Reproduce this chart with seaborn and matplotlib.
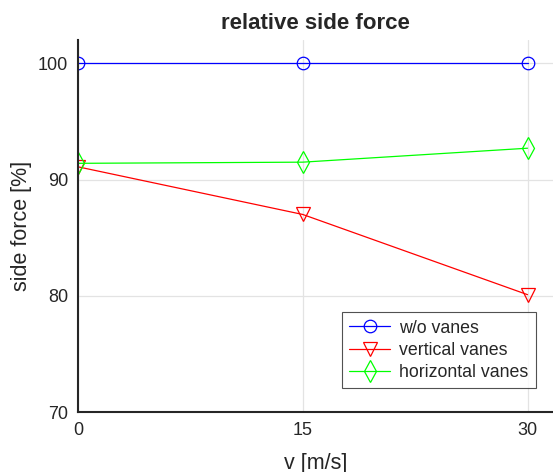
import pandas as pd
import numpy as np
import matplotlib
matplotlib.use("Agg")
import matplotlib.pyplot as plt
import seaborn as sns

# --- data ---
speeds = [0, 15, 30]
wo_vanes = [100.0, 100.0, 100.0]
vertical_vanes = [91.1, 87.0, 80.1]
horizontal_vanes = [91.4, 91.5, 92.7]
series_names = ["w/o vanes", "vertical vanes", "horizontal vanes"]

df = pd.DataFrame({
    "v": speeds * 3,
    "force": wo_vanes + vertical_vanes + horizontal_vanes,
    "series": np.repeat(series_names, len(speeds)),
})

sns.set_style("white")
plt.rcParams["font.family"] = ["Liberation Sans", "DejaVu Sans"]

fig = plt.figure(figsize=(5.53, 4.72), dpi=100)
ax = fig.add_axes([0.141, 0.127, 0.859, 0.788])

palette = {"w/o vanes": "#0000ff", "vertical vanes": "#ff0000", "horizontal vanes": "#00ff00"}
markers = {"w/o vanes": "o", "vertical vanes": "v", "horizontal vanes": "d"}
msizes = {"w/o vanes": 9, "vertical vanes": 10, "horizontal vanes": 11}

for name in series_names:
    sub = df[df["series"] == name]
    sns.lineplot(data=sub, x="v", y="force", ax=ax, color=palette[name],
                 marker=markers[name], markersize=msizes[name], markerfacecolor="none",
                 markeredgecolor=palette[name], markeredgewidth=0.9,
                 linewidth=0.9, label=name)

ax.set_xlim(0, 31.7)
ax.set_ylim(70, 102)
ax.set_xticks([0, 15, 30])
ax.set_yticks([70, 80, 90, 100])
ax.grid(True, color="#e3e3e3", linewidth=0.9)
ax.set_axisbelow(True)

for side in ["top", "right"]:
    ax.spines[side].set_visible(False)
for side in ["left", "bottom"]:
    ax.spines[side].set_color("#262626")
    ax.spines[side].set_linewidth(1.5)

ax.tick_params(direction="in", length=5, width=1.2, colors="#262626",
               labelsize=13, labelcolor="#262626", pad=7)
ax.set_xlabel("v [m/s]", fontsize=15.5, color="#262626", labelpad=10)
ax.set_ylabel("side force [%]", fontsize=15.5, color="#262626", labelpad=4)
ax.set_title("relative side force", fontsize=16, fontweight="bold", pad=8)

leg = ax.legend(loc="lower right", bbox_to_anchor=(0.982, 0.04), fontsize=12.8,
                frameon=True, fancybox=False, edgecolor="#262626",
                handlelength=2.3, handletextpad=0.5, borderpad=0.4, labelspacing=0.3)
leg.get_frame().set_linewidth(0.8)

plt.savefig("out.png", dpi=100)
